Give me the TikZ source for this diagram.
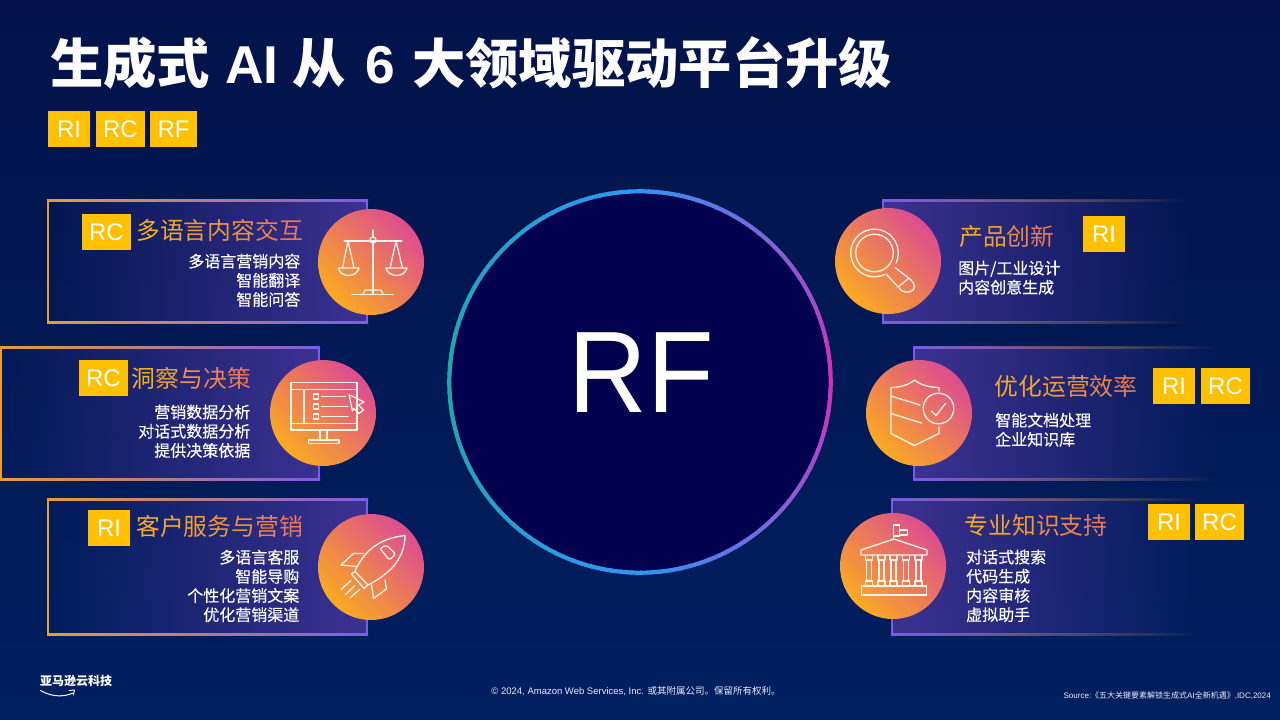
\documentclass[tikz,border=0pt]{standalone}
\usepackage{fontspec}
\usepackage{graphicx}
\usetikzlibrary{fadings}
\setmainfont{Liberation Sans}
\newfontfamily\cjk{Noto Sans CJK SC}
\newfontfamily\cjkmed[FakeBold=0.2]{Noto Sans CJK SC}
\definecolor{bgtop}{HTML}{03124A}
\definecolor{bgbot}{HTML}{002060}
\definecolor{panelpur}{HTML}{3D3192}
\definecolor{lineO}{HTML}{E89E30}
\definecolor{lineP}{HTML}{7A5CE8}
\definecolor{tagcol}{HTML}{FFC000}
\definecolor{titleA}{HTML}{F2B020}
\definecolor{titleB}{HTML}{EA7858}
\definecolor{discA}{HTML}{FBAA22}
\definecolor{discB}{HTML}{DC4C90}
\definecolor{hubcol}{HTML}{02004F}
\definecolor{ringM}{HTML}{D030B8}
\definecolor{ringB}{HTML}{2F95F5}
\definecolor{ringT}{HTML}{1FA8A8}
\newcommand{\gc}[2]{\textcolor{titleB!#1!titleA}{#2}}
\tikzfading[name=fadeleft, left color=transparent!100, middle color=transparent!70, right color=transparent!0]
\tikzfading[name=faderight, left color=transparent!0, middle color=transparent!70, right color=transparent!100]
\tikzfading[name=fadebar, left color=transparent!0, middle color=transparent!45, right color=transparent!100]
\tikzset{
  tag/.style={fill=tagcol, text=white, inner sep=0pt, minimum height=36pt, font=\fontsize{24}{24}\selectfont},
  disc/.style={circle, inner sep=0pt, minimum size=106pt, bottom color=discA, top color=discB, shading angle=-45},
  head/.style={inner sep=0pt, font=\fontsize{23.8}{24}\selectfont\cjk},
  body/.style={inner sep=0pt, text=white, font=\fontsize{16}{19.2}\selectfont\cjkmed},
  icon/.style={draw=white!92!orange, line width=1.3pt, line join=round, line cap=round},
}
\begin{document}
\begin{tikzpicture}[x=1pt,y=-1pt]
	\useasboundingbox (0,0) rectangle (1280,720);
	% Background
	\shade[top color=bgtop, bottom color=bgbot] (0,0) rectangle (1280,720);

	% Title and legend
	\node[anchor=base west, inner sep=0pt, text=white, font=\fontsize{53.3}{53}\selectfont\bfseries] (title) at (50,83) {{\cjk 生成式}\hspace{15pt}AI\hspace{14pt}{\cjk 从}\hspace{20pt}6\hspace{17pt}{\cjk 大领域驱动平台升级}};
	\node[tag, minimum width=42pt] (legendRI) at (69,129) {RI};
	\node[tag, minimum width=49pt] (legendRC) at (120.5,129) {RC};
	\node[tag, minimum width=47pt] (legendRF) at (173.5,129) {RF};

	% Left panels
	\foreach \xa/\ya/\xb/\yb in {48/200/367/322, 1/347/319/479, 48/499/367/634} {
		\fill[panelpur, path fading=fadeleft] (\xa,\ya) rectangle (\xb,\yb);
		\shade[left color=lineO, right color=lineP] (\xa-1,\ya-1) rectangle (\xb+1,\ya+1);
		\shade[left color=lineO, right color=lineP] (\xa-1,\yb-1) rectangle (\xb+1,\yb+1);
		\fill[lineO] (\xa-1,\ya) rectangle (\xa+1,\yb);
		\fill[lineP] (\xb-1,\ya) rectangle (\xb+1,\yb);
	}
	% Right panels
	\foreach \xa/\ya/\xb/\yb in {883/200/1190/322, 914/347/1220/479, 892/499/1200/634} {
		\fill[panelpur, path fading=faderight] (\xa,\ya) rectangle (\xb,\yb);
		\shade[left color=lineP, right color=lineO, path fading=fadebar] (\xa-1,\ya-1) rectangle (\xb,\ya+1);
		\shade[left color=lineP, right color=lineO, path fading=fadebar] (\xa-1,\yb-1) rectangle (\xb,\yb+1);
		\fill[lineP] (\xa-1,\ya) rectangle (\xa+1,\yb);
	}

	% Hub
	\node[circle, fill=hubcol, inner sep=0pt, minimum size=381pt] (hub) at (640,382) {};
	\foreach \a in {0,3,...,357} {
		\pgfmathsetmacro{\d}{min(\a,360-\a)}
		\pgfmathsetmacro{\pa}{min(\d,90)/90*100}
		\pgfmathsetmacro{\pb}{max(\d-90,0)/90*100}
		\colorlet{ringcol}{ringB!\pa!ringM}
		\colorlet{ringcol}{ringT!\pb!ringcol}
		\draw[ringcol, line width=4.2pt] (hub.center) ++(\a:190.7pt) arc[start angle=\a, end angle=\a+3.5, radius=190.7pt];
	}
	\node[inner sep=0pt, text=white, font=\fontsize{116}{116}\selectfont] (hubtext) at (641,372.5) {\scalebox{0.94}[1]{RF}};

	% Panel 1
	\node[tag, minimum width=49pt] (tagA) at (106.5,232) {RC};
	\node[head, anchor=base east] (headA) at (303,239) {\gc{0}{多}\gc{15}{语}\gc{30}{言}\gc{45}{内}\gc{60}{容}\gc{80}{交}\gc{100}{互}};
	\node[body, anchor=north east, align=right] (bodyA) at (300.5,253.5) {多语言营销内容\\智能翻译\\智能问答};
	\node[disc] (discA) at (371,262) {};
	\draw[icon] (344,241) -- (402,241);
	\draw[icon] (373,230) -- (373,237) (373,243) -- (373,294);
	\draw[icon] (373,240) circle (3pt);
	\draw[icon] (352,294.5) -- (393,294.5);
	\draw[icon] (363,294) -- (365,290) -- (381,290) -- (383,294);
	\draw[icon] (348,241) -- (342.5,268) (348,241) -- (354,268);
	\draw[icon] (396,241) -- (390,268) (396,241) -- (402.5,268);
	\draw[icon] (338.5,268) -- (359,268) .. controls (358,273) and (353,275.5) .. (348.5,275.5) .. controls (344,275.5) and (339,273) .. cycle;
	\draw[icon] (386,268) -- (407,268) .. controls (406,273) and (401,275.5) .. (396.5,275.5) .. controls (392,275.5) and (387,273) .. cycle;

	% Panel 2
	\node[tag, minimum width=49pt] (tagB) at (103.5,378) {RC};
	\node[head, anchor=base east] (headB) at (251,387) {\gc{0}{洞}\gc{25}{察}\gc{50}{与}\gc{75}{决}\gc{100}{策}};
	\node[body, anchor=north east, align=right] (bodyB) at (250.5,404.5) {营销数据分析\\对话式数据分析\\提供决策依据};
	\node[disc] (discB) at (323,413) {};
	\draw[icon] (291,382.5) rectangle (357,430);
	\draw[icon] (291,389.5) -- (357,389.5) (291,423.5) -- (357,423.5) (304,389.5) -- (304,423.5);
	\foreach \yy/\xe in {396.5/345.5, 406.5/348, 416.5/348} {
		\draw[icon] (313.5,\yy-2.5) rectangle (318.5,\yy+2.5);
		\draw[icon] (321.5,\yy) -- (\xe,\yy);
	}
	\draw[icon] (320,430) -- (320,440) (327,430) -- (327,440);
	\draw[icon] (308.5,440) rectangle (339,443.5);
	\draw[icon] (349,394.5) -- (364,402) -- (358.5,405) -- (363.5,410) -- (359,413.5) -- (354,408.5) -- (352.5,411) -- cycle;

	% Panel 3
	\node[tag, minimum width=42pt] (tagC) at (109,528) {RI};
	\node[head, anchor=base east] (headC) at (303,535) {\gc{0}{客}\gc{15}{户}\gc{30}{服}\gc{45}{务}\gc{60}{与}\gc{80}{营}\gc{100}{销}};
	\node[body, anchor=north east, align=right] (bodyC) at (299.5,549.5) {多语言客服\\智能导购\\个性化营销文案\\优化营销渠道};
	\node[disc] (discC) at (371,567) {};
	\draw[icon] (405,535.5) .. controls (390,537) and (375,543) .. (365,555) .. controls (360,561) and (357,566) .. (355,571.5) -- (368,585) .. controls (376,581) and (385,575) .. (392,568) .. controls (401,558) and (405,547) .. cycle;
	\draw[icon] (355,571.5) -- (351.5,574) -- (364,588.5) -- (368,585);
	\draw[icon] (363.5,553.5) -- (353.5,553.5) -- (341,565) -- (356.5,566.5);
	\draw[icon] (385,580) -- (386.5,589) -- (373.5,598.5) -- (371.5,585);
	\draw[icon, rounded corners=2pt] (380,548.5) -- (386.5,545) -- (395.5,554) -- (389.5,560) -- cycle;
	\draw[icon] (341,589.5) -- (351,580.5) (345,595) -- (355,585.5) (350,598) -- (359.5,589.5);

	% Panel 4
	\node[tag, minimum width=42pt] (tagD) at (1104,234) {RI};
	\node[head, anchor=base west] (headD) at (959,245) {\gc{0}{产}\gc{33}{品}\gc{66}{创}\gc{100}{新}};
	\node[body, anchor=north west, align=left] (bodyD) at (958,260.5) {图片/工业设计\\内容创意生成};
	\node[disc] (discD) at (888,261) {};
	\draw[icon] (874.5,253) circle (18.8pt);
	\draw[icon] (874.5,253) ++(-25:23.8pt) arc[start angle=-25, end angle=295, radius=23.8pt];
	\draw[icon] (886,274) -- (901.5,290.5) .. controls (906,294) and (915,292) .. (914.5,286) .. controls (914,283) and (912,281) .. (910,279) -- (895,267.5);
	\draw[icon] (899.5,286) -- (908.5,278.5);

	% Panel 5
	\node[tag, minimum width=42pt] (tagE) at (1174,386) {RI};
	\node[tag, minimum width=49pt] (tagF) at (1225.5,386) {RC};
	\node[head, anchor=base west] (headE) at (994.5,395) {\gc{0}{优}\gc{20}{化}\gc{40}{运}\gc{60}{营}\gc{80}{效}\gc{100}{率}};
	\node[body, anchor=north west, align=left] (bodyE) at (995,412.5) {智能文档处理\\企业知识库};
	\node[disc] (discE) at (919,413) {};
	\draw[icon] (939,391) -- (939,387.5) .. controls (930,387.5) and (920,385) .. (914.5,380) .. controls (909,385) and (899,387.5) .. (891,387.5) -- (891,433.5) -- (914.5,445.5) -- (939,433.5) -- (939,427);
	\draw[icon] (891,396) -- (920,405) (891,413.5) -- (921.5,423);
	\draw[icon] (938.5,408.5) circle (15.3pt);
	\draw[icon] (931.5,411) -- (936,415.5) -- (945.5,403.5);

	% Panel 6
	\node[tag, minimum width=42pt] (tagG) at (1169,522) {RI};
	\node[tag, minimum width=49pt] (tagH) at (1219.5,522) {RC};
	\node[head, anchor=base west] (headF) at (964.5,534) {\gc{0}{专}\gc{20}{业}\gc{40}{知}\gc{60}{识}\gc{80}{支}\gc{100}{持}};
	\node[body, anchor=north west, align=left] (bodyF) at (966,549.5) {对话式搜索\\代码生成\\内容审核\\虚拟助手};
	\node[disc] (discF) at (893,566) {};
	\draw[icon] (893.5,538) -- (893.5,525) -- (899.5,525) -- (899.5,536) -- (893.5,536);
	\draw[icon] (899.5,530) -- (907.5,530) -- (907.5,535) -- (899.5,535);
	\draw[icon] (861,555) -- (861,550) -- (894,539) -- (927,550) -- (927,555) -- cycle;
	\foreach \xx in {869,881.5,893.5,906,918.5} {
		\draw[icon] (\xx-3.5,555) -- (\xx-3.5,560) -- (\xx+3.5,560) -- (\xx+3.5,555);
		\draw[icon] (\xx-2.5,560) -- (\xx-2.5,581) (\xx+2.5,560) -- (\xx+2.5,581);
		\draw[icon] (\xx-3.5,586) -- (\xx-3.5,581) -- (\xx+3.5,581) -- (\xx+3.5,586);
	}
	\draw[icon] (861.5,586) rectangle (926.5,595);

	% Footer
	\node[inner sep=0pt, anchor=base west, text=white, font=\fontsize{12}{12}\selectfont\bfseries\cjk] (logo) at (40,685) {亚马逊云科技};
	\draw[white, line width=1pt, line cap=round] (40.5,690.5) .. controls (50,696) and (62,698) .. (73,693);
	\draw[white, line width=0.9pt, line cap=round, line join=round] (69,690.5) -- (74.5,690) -- (73.5,695);
	\node[inner sep=0pt, text=white!92!blue, font=\fontsize{9.5}{9.5}\selectfont] (copyright) at (636,691) {© 2024, Amazon Web Services, Inc. {\cjk 或其附属公司。保留所有权利。}};
	\node[inner sep=0pt, anchor=east, text=white!92!blue, font=\fontsize{8}{8}\selectfont] (source) at (1271,696) {Source:{\cjk 《五大关键要素解锁生成式}AI{\cjk 全新机遇》},IDC,2024};
\end{tikzpicture}
\end{document}
